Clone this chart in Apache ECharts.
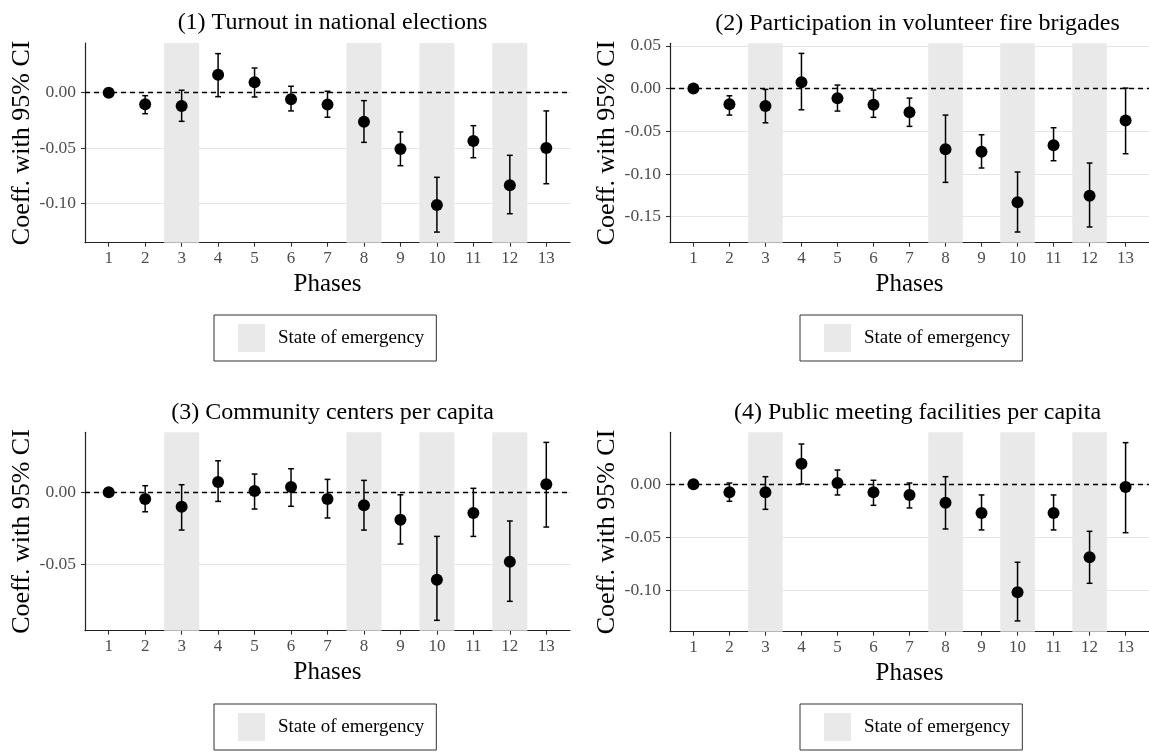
<!DOCTYPE html>
<html><head><meta charset="utf-8">
<script src="https://cdn.jsdelivr.net/npm/echarts@6/dist/echarts.min.js"></script>
<style>html,body{margin:0;padding:0;background:#fff}#c{width:1149px;height:752px}</style>
</head><body><div id="c"></div>
<script>
const phases = [1,2,3,4,5,6,7,8,9,10,11,12,13];
const emergencyPhases = [3,8,10,12];
const legendLabel = 'State of emergency';
const xName = 'Phases';
const yName = 'Coeff. with 95% CI';
const titles = [
  '(1) Turnout in national elections',
  '(2) Participation in volunteer fire brigades',
  '(3) Community centers per capita',
  '(4) Public meeting facilities per capita'
];

// (1) Turnout in national elections
const est1 = [0, -0.0105, -0.012, 0.0163, 0.0094, -0.006, -0.0108, -0.0262, -0.0509, -0.1015, -0.0437, -0.0837, -0.050];
const lo1  = [0, -0.019, -0.0259, -0.0036, -0.0039, -0.0165, -0.0222, -0.0449, -0.066, -0.126, -0.0588, -0.1094, -0.0823];
const hi1  = [0, -0.0027, 0.0022, 0.0353, 0.0223, 0.0058, 0.0013, -0.0072, -0.0355, -0.0765, -0.0298, -0.0566, -0.0165];
const yTicks1 = [-0.10, -0.05, 0.00];
const yLim1 = [-0.1356, 0.0449];

// (2) Participation in volunteer fire brigades
const est2 = [0, -0.0185, -0.0205, 0.0072, -0.0115, -0.019, -0.0279, -0.0712, -0.074, -0.1332, -0.0665, -0.1254, -0.0373];
const lo2  = [0, -0.0311, -0.0401, -0.0249, -0.0264, -0.0337, -0.0443, -0.1098, -0.093, -0.1679, -0.0845, -0.162, -0.0763];
const hi2  = [0, -0.0085, -0.001, 0.0411, 0.004, -0.0018, -0.0112, -0.0311, -0.0541, -0.0977, -0.0459, -0.0872, 0.0005];
const yTicks2 = [-0.15, -0.10, -0.05, 0.00, 0.05];
const yLim2 = [-0.1804, 0.0529];

// (3) Community centers per capita
const est3 = [0, -0.0047, -0.010, 0.0072, 0.0009, 0.0037, -0.0047, -0.009, -0.019, -0.0607, -0.0144, -0.0482, 0.0056];
const lo3  = [0, -0.0135, -0.0262, -0.0063, -0.0116, -0.0097, -0.0178, -0.0262, -0.0359, -0.0889, -0.0306, -0.0757, -0.0241];
const hi3  = [0, 0.0046, 0.0053, 0.0219, 0.0127, 0.0164, 0.009, 0.0083, -0.0017, -0.0306, 0.0028, -0.0199, 0.0347];
const yTicks3 = [-0.05, 0.00];
const yLim3 = [-0.0961, 0.0417];

// (4) Public meeting facilities per capita
const est4 = [0, -0.0076, -0.0076, 0.0195, 0.0012, -0.0076, -0.0101, -0.0174, -0.0272, -0.1022, -0.0272, -0.0691, -0.0026];
const lo4  = [0, -0.0161, -0.0237, 0.0003, -0.0101, -0.0199, -0.0224, -0.0423, -0.0432, -0.1293, -0.0432, -0.0937, -0.0458];
const hi4  = [0, 0.0012, 0.0072, 0.0381, 0.0135, 0.0038, 0.0012, 0.0072, -0.0101, -0.0738, -0.0101, -0.0445, 0.0394];
const yTicks4 = [-0.10, -0.05, 0.00];
const yLim4 = [-0.1395, 0.0492];

const FONT = "'Liberation Serif','Times New Roman','DejaVu Serif',serif";
const layout = [
  {left: 85,  top: 43,    height: 199.7, lgLeft: 214, lgTop: 315},
  {left: 670, top: 43.3,  height: 199.4, lgLeft: 800, lgTop: 315},
  {left: 85,  top: 432.3, height: 198.4, lgLeft: 214, lgTop: 704},
  {left: 670, top: 432.3, height: 199.4, lgLeft: 800, lgTop: 704}
];
const PW = 485;
const panels = [
  {est: est1, lo: lo1, hi: hi1, ticks: yTicks1, lim: yLim1},
  {est: est2, lo: lo2, hi: hi2, ticks: yTicks2, lim: yLim2},
  {est: est3, lo: lo3, hi: hi3, ticks: yTicks3, lim: yLim3},
  {est: est4, lo: lo4, hi: hi4, ticks: yTicks4, lim: yLim4}
];

function shadeRender(params, api) {
  const x = api.value(0);
  const a = api.coord([x - 0.48, 0]), b = api.coord([x + 0.48, 0]);
  const cs = params.coordSys;
  return {type: 'rect', shape: {x: a[0], y: cs.y, width: b[0] - a[0], height: cs.height},
          style: {fill: '#e9e9e9'}};
}
function errRender(params, api) {
  const x = api.value(0), lo = api.value(1), hi = api.value(2);
  const t = api.coord([x, hi]), b = api.coord([x, lo]);
  const l = api.coord([x - 0.08, hi]), r = api.coord([x + 0.08, hi]);
  const h = (r[0] - l[0]) / 2;
  const st = {stroke: '#000', lineWidth: 1.5};
  return {type: 'group', children: [
    {type: 'line', shape: {x1: t[0], y1: t[1], x2: b[0], y2: b[1]}, style: st},
    {type: 'line', shape: {x1: t[0] - h, y1: t[1], x2: t[0] + h, y2: t[1]}, style: st},
    {type: 'line', shape: {x1: b[0] - h, y1: b[1], x2: b[0] + h, y2: b[1]}, style: st}
  ]};
}

const option = {animation: false, backgroundColor: '#fff',
  title: [], grid: [], xAxis: [], yAxis: [], legend: [], series: []};

panels.forEach((p, i) => {
  const L = layout[i];
  option.grid.push({left: L.left, top: L.top, width: PW, height: L.height, containLabel: false});
  option.title.push({text: titles[i], left: L.left + PW / 2, top: L.top - 37, textAlign: 'center',
    textStyle: {fontFamily: FONT, fontSize: 24, fontWeight: 'normal', color: '#000'}});
  option.xAxis.push({type: 'value', gridIndex: i, min: 0.35, max: 13.65,
    name: xName, nameLocation: 'middle', nameGap: 29,
    nameTextStyle: {fontFamily: FONT, fontSize: 25, color: '#000'},
    axisLine: {show: true, onZero: false, lineStyle: {color: '#222', width: 1.2}},
    axisTick: {show: true, length: 4, customValues: phases, lineStyle: {color: '#333', width: 1.1}},
    axisLabel: {customValues: phases, margin: 7, fontFamily: FONT, fontSize: 17, color: '#4d4d4d'},
    splitLine: {show: false}});
  option.yAxis.push({type: 'value', gridIndex: i, min: p.lim[0], max: p.lim[1],
    name: yName, nameLocation: 'middle', nameGap: 48, nameRotate: 90,
    nameTextStyle: {fontFamily: FONT, fontSize: 26, color: '#000'},
    axisLine: {show: true, onZero: false, lineStyle: {color: '#222', width: 1.2}},
    axisTick: {show: true, length: 4, customValues: p.ticks, lineStyle: {color: '#333', width: 1.1}},
    axisLabel: {customValues: p.ticks, margin: 9, fontFamily: FONT, fontSize: 17.5, color: '#4d4d4d',
      formatter: v => v.toFixed(2)},
    splitLine: {show: true, lineStyle: {color: '#e6e6e6', width: 1}}});
  option.legend.push({data: [legendLabel], left: L.lgLeft, top: L.lgTop, orient: 'horizontal',
    selectedMode: false, icon: 'rect', itemWidth: 27, itemHeight: 28,
    borderColor: '#333', borderWidth: 1, borderRadius: 0, padding: [9, 12, 9, 24],
    textStyle: {fontFamily: FONT, fontSize: 19, color: '#000', padding: [0, 0, 0, 8]}});
  option.series.push({type: 'custom', name: legendLabel, xAxisIndex: i, yAxisIndex: i, z: 1,
    itemStyle: {color: '#e9e9e9'}, renderItem: shadeRender, silent: true,
    data: emergencyPhases.map(x => [x, 0]), encode: {x: 0, y: 1}});
  option.series.push({type: 'custom', name: 'ci' + i, xAxisIndex: i, yAxisIndex: i, z: 3,
    renderItem: errRender, silent: true,
    data: phases.map((x, k) => [x, p.lo[k], p.hi[k]]), encode: {x: 0, y: [1, 2]}});
  option.series.push({type: 'scatter', name: 'est' + i, xAxisIndex: i, yAxisIndex: i, z: 4,
    symbol: 'circle', symbolSize: 12, itemStyle: {color: '#000', opacity: 1}, silent: true,
    data: phases.map((x, k) => [x, p.est[k]]),
    markLine: {silent: true, symbol: ['none', 'none'], label: {show: false},
      lineStyle: {color: '#000', type: [5, 4], width: 1.4}, data: [{yAxis: 0}]}});
});

const chart = echarts.init(document.getElementById('c'), null, {renderer: 'canvas'});
chart.setOption(option);
</script></body></html>
